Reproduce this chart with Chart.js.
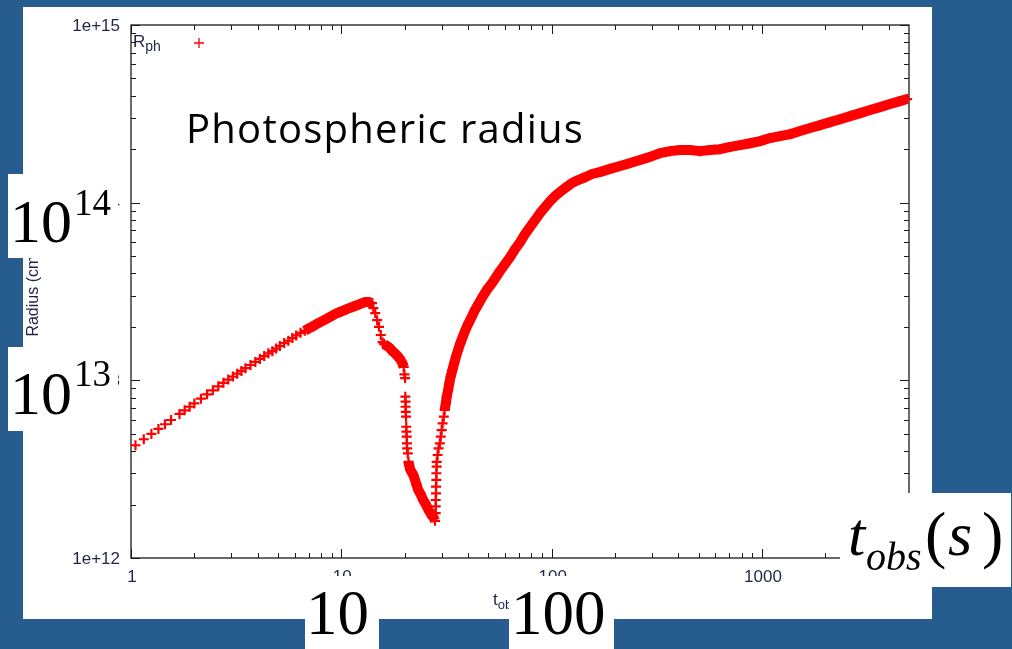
<!DOCTYPE html>
<html>
<head>
<meta charset="utf-8">
<title>Photospheric radius</title>
<script src="https://cdn.jsdelivr.net/npm/chart.js@4/dist/chart.umd.min.js"></script>
<style>
  html, body { margin: 0; padding: 0; background: #275c8e; }
  canvas { display: block; }
</style>
</head>
<body>
<canvas id="myChart" width="1012" height="649"></canvas>
<script>
// observer time (s) and photospheric radius (cm)
const tObs = [
  1.05, 1.15, 1.25, 1.35, 1.45, 1.55, 1.7, 1.8, 1.9, 2.0,
  2.15, 2.3, 2.45, 2.6, 2.75, 2.9, 3.05, 3.2, 3.35, 3.5,
  3.7, 3.9, 4.1, 4.3, 4.5, 4.7, 4.9, 5.1, 5.35, 5.6,
  5.85, 6.1, 6.4, 6.7, 7.0, 7.3, 7.6, 7.9, 8.2, 8.5,
  8.8, 9.1, 9.4, 9.7, 10.0, 10.3, 10.6, 10.9, 11.2, 11.5,
  11.8, 12.1, 12.4, 12.7, 13.0, 13.3, 13.6, 14.0, 14.2, 14.5,
  14.8, 15.1, 15.4, 15.7, 16.0, 16.5, 17.0, 17.5, 18.0, 18.5,
  19.0, 19.5, 19.8, 19.95, 20.1, 20.15, 20.2, 20.2, 20.25, 20.3,
  20.35, 20.4, 20.45, 20.5, 20.55, 20.7, 20.85, 21.0, 21.3, 22.0,
  22.4, 22.8, 23.2, 23.9, 24.5, 25.3, 26.0, 26.7, 27.4, 27.9,
  28.1, 28.1, 28.1, 28.2, 28.2, 28.3, 28.3, 28.4, 28.4, 28.7,
  29.0, 29.4, 29.7, 30.0, 30.3, 30.7, 31.0, 31.4, 31.7, 32.2,
  32.6, 33.1, 33.7, 34.4, 35.1, 35.9, 36.8, 37.8, 38.9, 40.2,
  41.7, 43.2, 45.0, 47.0, 49.1, 51.9, 54.4, 56.8, 60.0, 63.4,
  67.0, 70.8, 74.7, 78.9, 83.4, 88.1, 93.0, 98.3, 103.8, 109.7,
  117.1, 125.0, 133.6, 144.2, 155.6, 170.6, 189.9, 211.5, 235.9, 263.2,
  293.6, 327.5, 365.4, 407.9, 455, 508, 566, 632, 706, 787,
  878, 979, 1093, 1219, 1360, 1518, 1694, 1890, 2109, 2352,
  2624, 2927, 3266, 3644, 4064, 4534, 4899
];
const radius = [
  4.31e12, 4.66e12, 4.99e12, 5.33e12, 5.66e12, 5.98e12, 6.47e12, 6.78e12, 7.10e12, 7.41e12,
  7.88e12, 8.34e12, 8.79e12, 9.25e12, 9.68e12, 1.01e13, 1.05e13, 1.09e13, 1.13e13, 1.17e13,
  1.22e13, 1.27e13, 1.32e13, 1.37e13, 1.42e13, 1.46e13, 1.51e13, 1.56e13, 1.62e13, 1.67e13,
  1.73e13, 1.79e13, 1.85e13, 1.90e13, 1.96e13, 2.01e13, 2.07e13, 2.12e13, 2.17e13, 2.22e13,
  2.27e13, 2.32e13, 2.37e13, 2.41e13, 2.44e13, 2.48e13, 2.51e13, 2.55e13, 2.58e13, 2.61e13,
  2.64e13, 2.67e13, 2.70e13, 2.73e13, 2.76e13, 2.76e13, 2.75e13, 2.72e13, 2.55e13, 2.39e13,
  2.18e13, 2.00e13, 1.80e13, 1.64e13, 1.60e13, 1.56e13, 1.52e13, 1.46e13, 1.42e13, 1.37e13,
  1.32e13, 1.25e13, 1.19e13, 1.08e13, 1.03e13, 8.09e12, 7.59e12, 7.10e12, 6.65e12, 6.24e12,
  5.48e12, 5.14e12, 4.82e12, 4.42e12, 4.14e12, 3.88e12, 3.48e12, 3.34e12, 3.13e12, 2.93e12,
  2.75e12, 2.58e12, 2.42e12, 2.27e12, 2.12e12, 1.99e12, 1.86e12, 1.76e12, 1.69e12, 1.62e12,
  1.79e12, 1.95e12, 2.12e12, 2.31e12, 2.52e12, 2.75e12, 3.00e12, 3.27e12, 3.48e12, 3.80e12,
  4.14e12, 4.42e12, 4.82e12, 5.25e12, 5.73e12, 6.24e12, 6.81e12, 7.43e12, 8.09e12, 8.82e12,
  9.62e12, 1.05e13, 1.14e13, 1.25e13, 1.36e13, 1.48e13, 1.62e13, 1.76e13, 1.92e13, 2.09e13,
  2.28e13, 2.49e13, 2.71e13, 2.96e13, 3.22e13, 3.51e13, 3.81e13, 4.12e13, 4.51e13, 4.94e13,
  5.48e13, 6.00e13, 6.65e13, 7.29e13, 7.98e13, 8.74e13, 9.44e13, 1.02e14, 1.09e14, 1.15e14,
  1.22e14, 1.29e14, 1.34e14, 1.39e14, 1.45e14, 1.49e14, 1.55e14, 1.61e14, 1.67e14, 1.74e14,
  1.81e14, 1.90e14, 1.95e14, 1.98e14, 1.98e14, 1.95e14, 1.98e14, 2.00e14, 2.06e14, 2.11e14,
  2.16e14, 2.22e14, 2.31e14, 2.37e14, 2.43e14, 2.53e14, 2.63e14, 2.73e14, 2.84e14, 2.95e14,
  3.07e14, 3.19e14, 3.32e14, 3.45e14, 3.59e14, 3.73e14, 3.83e14
];

// time ranges where the markers pile up into a solid band
const bandFrom = [6.7, 16.0, 20.85, 31.0];
const bandTo = [14.0, 19.8, 27.9, 5000];

const xMajorTicks = [1, 10, 100, 1000];
const xTickLabels = ['1', '10', '100', '1000'];
const yMajorTicks = [1e12, 1e13, 1e14, 1e15];
const yTickLabels = ['1e+12', '1e+13', '1e+14', '1e+15'];
const minorMantissas = [2, 3, 4, 5, 6, 7, 8, 9];

const xMin = 1, xMax = 5000;
const yMin = 1e12, yMax = 1e15;

const BLUE = '#275c8e';
const LABEL_COLOR = '#1f2545';
const SANS = '"Liberation Sans", Arial, sans-serif';
const SERIF = '"Liberation Serif", "Times New Roman", serif';

const xMinorTicks = [];
xMajorTicks.forEach(d => minorMantissas.forEach(m => { if (d * m < xMax) xMinorTicks.push(d * m); }));
const yMinorTicks = [];
yMajorTicks.slice(0, 3).forEach(d => minorMantissas.forEach(m => yMinorTicks.push(d * m)));

const points = tObs.map((t, i) => ({ x: t, y: radius[i] }));

const bandSets = bandFrom.map((a, k) => ({
  data: points.filter(p => p.x >= a && p.x <= bandTo[k]),
  showLine: true,
  borderColor: 'red',
  backgroundColor: 'red',
  borderWidth: 10,
  borderCapStyle: 'butt',
  borderJoinStyle: 'round',
  pointRadius: 0,
  tension: 0,
  clip: false
}));

// text pieces drawn one after another: [text, font, baselineShift, extraGap]
function drawPieces(ctx, pieces, x, y) {
  pieces.forEach(([text, font, dy, gap]) => {
    ctx.font = font;
    ctx.fillText(text, x, y + dy);
    x += ctx.measureText(text).width + (gap || 0);
  });
}

const frame = {
  id: 'frame',
  beforeDraw(chart) {
    const ctx = chart.ctx;
    ctx.save();
    ctx.fillStyle = BLUE;
    ctx.fillRect(0, 0, chart.width, chart.height);
    ctx.fillStyle = '#fff';
    ctx.fillRect(23, 7, 909, 612);
    ctx.restore();
  },
  beforeDatasetsDraw(chart) {
    const ctx = chart.ctx;
    const { left, right, top, bottom } = chart.chartArea;
    const xs = chart.scales.x, ys = chart.scales.y;
    ctx.save();

    // border and inward ticks on all four sides
    ctx.strokeStyle = '#1a1a1a';
    ctx.lineWidth = 1.3;
    ctx.strokeRect(left, top, right - left, bottom - top);
    ctx.lineWidth = 1;
    ctx.beginPath();
    const tickX = (v, len) => {
      const px = Math.round(xs.getPixelForValue(v)) + 0.5;
      ctx.moveTo(px, bottom); ctx.lineTo(px, bottom - len);
      ctx.moveTo(px, top); ctx.lineTo(px, top + len);
    };
    const tickY = (v, len) => {
      const py = Math.round(ys.getPixelForValue(v)) + 0.5;
      ctx.moveTo(left, py); ctx.lineTo(left + len, py);
      ctx.moveTo(right, py); ctx.lineTo(right - len, py);
    };
    xMajorTicks.forEach(v => tickX(v, 9));
    xMinorTicks.forEach(v => tickX(v, 5));
    yMajorTicks.forEach(v => tickY(v, 9));
    yMinorTicks.forEach(v => tickY(v, 5));
    ctx.stroke();

    // tick labels
    ctx.fillStyle = LABEL_COLOR;
    ctx.font = '17px ' + SANS;
    ctx.textAlign = 'right';
    ctx.textBaseline = 'middle';
    yMajorTicks.forEach((v, i) => ctx.fillText(yTickLabels[i], left - 11, ys.getPixelForValue(v) + 1));
    ctx.textAlign = 'center';
    ctx.textBaseline = 'alphabetic';
    xMajorTicks.forEach((v, i) => ctx.fillText(xTickLabels[i], xs.getPixelForValue(v) + 1, bottom + 24));

    // axis titles
    ctx.textAlign = 'left';
    drawPieces(ctx, [['t', '17px ' + SANS, 0], ['obs', '13px ' + SANS, 4], [' (s)', '17px ' + SANS, 0]], 493, 605);
    ctx.save();
    ctx.translate(38, (top + bottom) / 2 + 2);
    ctx.rotate(-Math.PI / 2);
    ctx.textAlign = 'center';
    ctx.font = '16px ' + SANS;
    ctx.fillText('Radius (cm)', 0, 0);
    ctx.restore();

    // key
    drawPieces(ctx, [['R', '17px ' + SANS, 0], ['ph', '14px ' + SANS, 4]], 133, 47);
    ctx.strokeStyle = 'red';
    ctx.lineWidth = 1.3;
    ctx.beginPath();
    ctx.moveTo(194, 43); ctx.lineTo(204, 43);
    ctx.moveTo(199, 38); ctx.lineTo(199, 48);
    ctx.stroke();

    // caption
    ctx.fillStyle = '#000';
    ctx.font = '40px "Open Sans", "Noto Sans", sans-serif';
    const caption = 'Photospheric radius';
    const w = ctx.measureText(caption).width;
    if ('letterSpacing' in ctx) ctx.letterSpacing = ((397 - w) / (caption.length - 1)).toFixed(2) + 'px';
    ctx.fillText(caption, 186, 143);
    ctx.restore();
  },
  afterDraw(chart) {
    const ctx = chart.ctx;
    ctx.save();
    ctx.fillStyle = '#fff';
    ctx.fillRect(8, 174, 110, 84);
    ctx.fillRect(8, 347, 110, 84);
    ctx.fillRect(305, 576, 74, 73);
    ctx.fillRect(509, 576, 105, 73);
    ctx.fillRect(840, 493, 171, 94);

    ctx.fillStyle = '#000';
    ctx.textAlign = 'left';
    ctx.textBaseline = 'alphabetic';
    drawPieces(ctx, [['10', '62px ' + SERIF, 0, 2], ['14', '37px ' + SERIF, -27]], 10, 242);
    drawPieces(ctx, [['10', '62px ' + SERIF, 0, 2], ['13', '37px ' + SERIF, -28]], 10, 414);
    ctx.font = '63px ' + SERIF;
    ctx.fillText('10', 306, 634);
    ctx.fillText('100', 511, 634);

    ctx.font = 'italic 62px ' + SERIF;
    ctx.fillText('t', 848, 555);
    ctx.font = 'italic 40px ' + SERIF;
    ctx.fillText('obs', 866, 570);
    ctx.font = '64px ' + SERIF;
    ctx.fillText('(', 925, 556);
    ctx.fillText(')', 982, 556);
    ctx.font = 'italic 62px ' + SERIF;
    ctx.fillText('s', 948, 555);
    ctx.restore();
  }
};

const ctx = document.getElementById('myChart').getContext('2d');
const myChart = new Chart(ctx, {
  type: 'scatter',
  data: {
    datasets: [{
      label: 'R_ph',
      data: points,
      pointStyle: 'cross',
      pointRadius: 5,
      pointBorderWidth: 2.2,
      borderColor: 'red',
      backgroundColor: 'red',
      showLine: false,
      clip: false
    }, ...bandSets]
  },
  options: {
    responsive: false,
    maintainAspectRatio: false,
    animation: false,
    devicePixelRatio: 1,
    layout: { padding: { left: 131, top: 25, right: 103, bottom: 91 } },
    scales: {
      x: { type: 'logarithmic', min: xMin, max: xMax, display: false },
      y: { type: 'logarithmic', min: yMin, max: yMax, display: false }
    },
    plugins: {
      legend: { display: false },
      tooltip: { enabled: false }
    }
  },
  plugins: [frame]
});
</script>
</body>
</html>
